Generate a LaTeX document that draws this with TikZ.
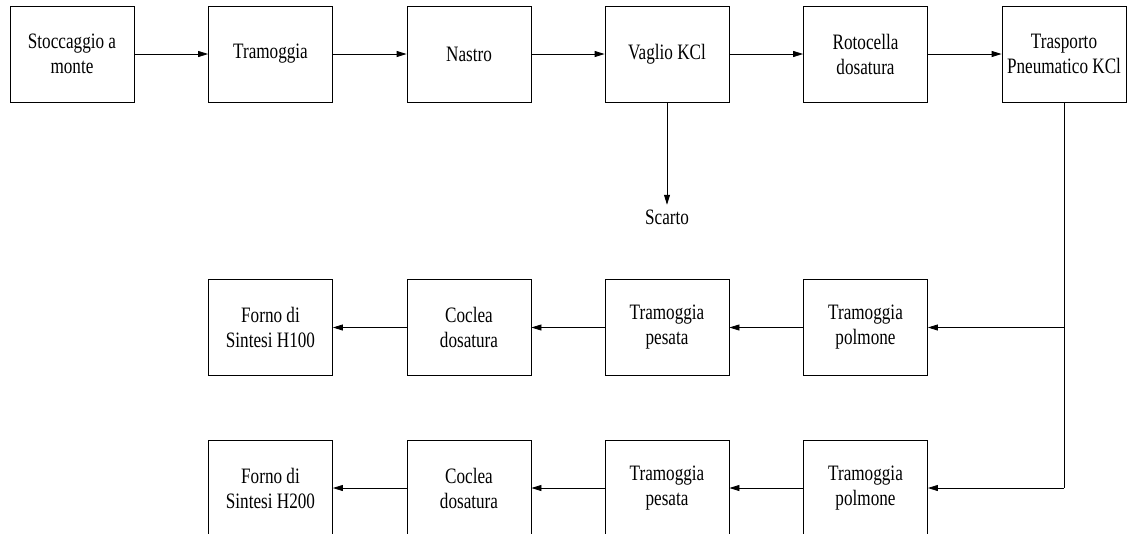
\documentclass[tikz,border=0pt]{standalone}
\usepackage{fontspec}
\setmainfont[FakeStretch=0.78]{Liberation Serif}
\usetikzlibrary{arrows.meta}

\begin{document}
\begin{tikzpicture}[x=0.75pt,y=-0.75pt,line width=0.6pt,
    >={Triangle[length=7.5pt,width=4.5pt]},
    font=\fontsize{16.5}{18.75}\selectfont]
  \useasboundingbox (0,0) rectangle (1130,533);
  \begin{scope}[every node/.style={draw,align=center,inner sep=0pt,minimum width=93pt,minimum height=72pt}]
    % First row
    \node (stock) at (72,54) {Stoccaggio a\\monte};
    \node (hopper) at (270.5,54) {Tramoggia};
    \node (belt) at (469,54) {Nastro};
    \node (screen) at (667,54) {Vaglio KCl};
    \node (rotary) at (865.5,54) {Rotocella\\dosatura};
    \node (pneum) at (1064,54) {Trasporto\\Pneumatico KCl};

    % Line H100
    \node (buffer_a) at (865.5,327.5) {Tramoggia\\polmone};
    \node (weigh_a) at (667,327.5) {Tramoggia\\pesata};
    \node (screw_a) at (469,327.5) {Coclea\\dosatura};
    \node (oven_a) at (270.5,327.5) {Forno di\\Sintesi H100};

    % Line H200
    \node (buffer_b) at (865.5,488) {Tramoggia\\polmone};
    \node (weigh_b) at (667,488) {Tramoggia\\pesata};
    \node (screw_b) at (469,488) {Coclea\\dosatura};
    \node (oven_b) at (270.5,488) {Forno di\\Sintesi H200};
  \end{scope}

  \node (waste) at (667,217) {Scarto};
  \coordinate (split_a) at (1064,327.5);
  \coordinate (split_b) at (1064,488);

  \draw[->] (stock) -- (hopper);
  \draw[->] (hopper) -- (belt);
  \draw[->] (belt) -- (screen);
  \draw[->] (screen) -- (rotary);
  \draw[->] (rotary) -- (pneum);
  \draw[->] (screen) -- (waste.north);

  \draw (pneum) -- (split_b);
  \draw[->] (split_a) -- (buffer_a);
  \draw[->] (split_b) -- (buffer_b);

  \draw[->] (buffer_a) -- (weigh_a);
  \draw[->] (weigh_a) -- (screw_a);
  \draw[->] (screw_a) -- (oven_a);

  \draw[->] (buffer_b) -- (weigh_b);
  \draw[->] (weigh_b) -- (screw_b);
  \draw[->] (screw_b) -- (oven_b);
\end{tikzpicture}
\end{document}
